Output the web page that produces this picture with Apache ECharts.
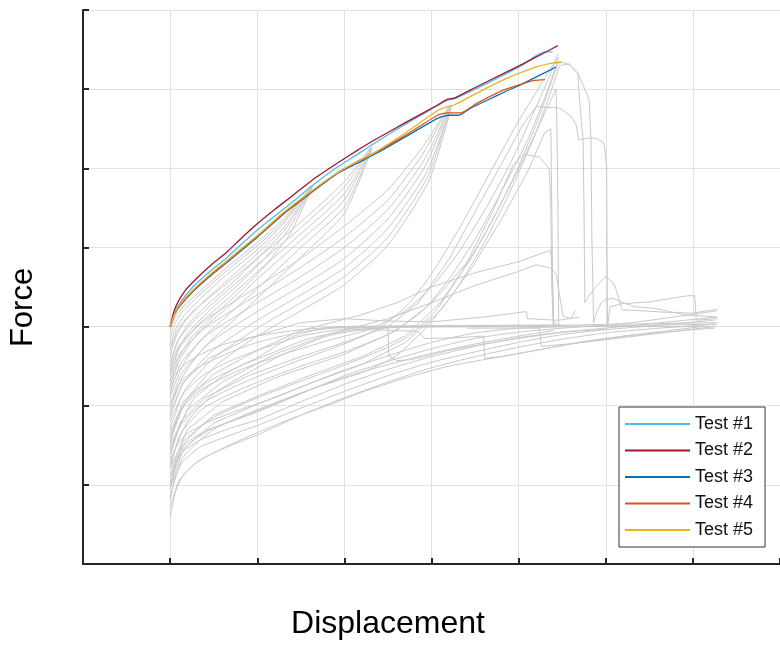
<!DOCTYPE html>
<html>
<head>
<meta charset="utf-8">
<script src="https://cdn.jsdelivr.net/npm/echarts@6/dist/echarts.min.js"></script>
<style>
  html, body { margin: 0; padding: 0; background: #fff; }
  #chart { width: 780px; height: 645px; }
</style>
</head>
<body>
<div id="chart"></div>
<script>
// ---- Highlighted test curves: [displacement, force] ----
const testNames = ['Test #1', 'Test #2', 'Test #3', 'Test #4', 'Test #5'];

const test1 = [[0,3.0],[0.05,3.17],[0.1,3.28],[0.26,3.5],[0.45,3.69],[0.65,3.87],[1.0,4.22],[1.4,4.57],[1.63,4.78],[1.9,5.0],[2.14,5.17],[2.35,5.32],[2.69,5.55],[3.07,5.79],[3.18,5.86],[3.27,5.88],[3.52,6.01],[3.83,6.18],[4.05,6.31],[4.2,6.42],[4.3,6.47],[4.39,6.47]];
const test2 = [[0,3.0],[0.04,3.18],[0.09,3.31],[0.17,3.45],[0.26,3.56],[0.45,3.76],[0.65,3.94],[0.82,4.12],[1.0,4.3],[1.2,4.48],[1.4,4.65],[1.63,4.85],[1.9,5.05],[2.14,5.22],[2.35,5.36],[2.69,5.57],[3.07,5.8],[3.18,5.87],[3.27,5.89],[3.52,6.03],[3.83,6.2],[4.05,6.32],[4.28,6.45],[4.45,6.55]];
const test3 = [[0,3.0],[0.05,3.15],[0.12,3.27],[0.26,3.44],[0.45,3.63],[0.65,3.81],[1.0,4.13],[1.3,4.42],[1.63,4.7],[1.93,4.94],[2.14,5.06],[2.37,5.19],[2.69,5.39],[3.07,5.63],[3.2,5.67],[3.31,5.67],[3.45,5.76],[3.64,5.86],[3.85,5.97],[4.05,6.07],[4.25,6.18],[4.43,6.28]];
const test4 = [[0,3.0],[0.05,3.16],[0.12,3.28],[0.26,3.45],[0.45,3.64],[0.65,3.82],[1.0,4.14],[1.3,4.43],[1.63,4.71],[1.93,4.95],[2.14,5.08],[2.37,5.21],[2.69,5.41],[3.07,5.67],[3.18,5.7],[3.33,5.7],[3.52,5.82],[3.83,5.99],[4.05,6.07],[4.18,6.11],[4.3,6.12]];
const test5 = [[0,3.0],[0.05,3.16],[0.12,3.29],[0.26,3.46],[0.45,3.65],[0.65,3.83],[1.0,4.15],[1.3,4.44],[1.63,4.72],[1.93,4.95],[2.14,5.08],[2.35,5.2],[2.69,5.44],[3.07,5.73],[3.18,5.78],[3.26,5.8],[3.52,5.95],[3.83,6.12],[4.2,6.28],[4.38,6.33],[4.49,6.34]];

// ---- Background cycles (all other specimens) ----
// reloading branches meeting the envelope near the first cycle peak
const greyToFirstPeak = [
  [[0,2.95],[0.05,3.1],[0.15,3.25],[0.3,3.4],[0.6,3.7],[1.0,4.06],[1.3,4.36],[1.63,4.77]],
  [[0,2.85],[0.05,3.03],[0.15,3.2],[0.3,3.36],[0.6,3.66],[1.0,4.02],[1.3,4.33],[1.63,4.77]],
  [[0,2.75],[0.06,2.96],[0.16,3.14],[0.32,3.32],[0.6,3.61],[1.0,3.97],[1.3,4.3],[1.63,4.77]],
  [[0,2.62],[0.07,2.88],[0.18,3.08],[0.35,3.28],[0.65,3.58],[1.0,3.92],[1.32,4.27],[1.63,4.77]],
  [[0,2.5],[0.08,2.8],[0.2,3.02],[0.4,3.25],[0.7,3.54],[1.0,3.86],[1.33,4.24],[1.63,4.77]],
  [[0,2.38],[0.1,2.73],[0.22,2.94],[0.45,3.2],[0.75,3.5],[1.05,3.82],[1.35,4.21],[1.64,4.78]],
  [[0,2.25],[0.1,2.6],[0.25,2.87],[0.5,3.14],[0.8,3.44],[1.1,3.78],[1.38,4.18],[1.64,4.78]]
];
// reloading branches meeting the envelope near the second cycle peak
const greyToSecondPeak = [
  [[0,2.7],[0.08,2.95],[0.25,3.18],[0.6,3.5],[1.0,3.86],[1.5,4.32],[2.0,4.83],[2.3,5.26]],
  [[0,2.55],[0.1,2.84],[0.28,3.08],[0.62,3.42],[1.0,3.78],[1.5,4.25],[2.0,4.76],[2.3,5.26]],
  [[0,2.4],[0.1,2.71],[0.3,3.0],[0.65,3.34],[1.0,3.69],[1.5,4.17],[2.0,4.68],[2.31,5.26]],
  [[0,2.25],[0.12,2.6],[0.32,2.92],[0.68,3.26],[1.0,3.6],[1.5,4.09],[2.0,4.6],[2.31,5.26]],
  [[0,2.1],[0.13,2.48],[0.35,2.83],[0.7,3.18],[1.05,3.53],[1.5,4.0],[2.0,4.51],[2.32,5.26]],
  [[0,1.95],[0.15,2.38],[0.4,2.75],[0.75,3.1],[1.1,3.46],[1.55,3.93],[2.0,4.43],[2.32,5.26]]
];
// reloading branches meeting the envelope near the third cycle peak
const greyToThirdPeak = [
  [[0,2.45],[0.1,2.76],[0.4,3.08],[1.0,3.5],[1.5,3.86],[2.0,4.27],[2.5,4.73],[2.9,5.27],[3.2,5.78]],
  [[0,2.3],[0.1,2.64],[0.4,2.98],[1.0,3.4],[1.5,3.75],[2.0,4.13],[2.5,4.6],[2.9,5.18],[3.2,5.78]],
  [[0,2.15],[0.12,2.53],[0.42,2.89],[1.0,3.3],[1.5,3.63],[2.0,4.0],[2.5,4.48],[2.92,5.11],[3.21,5.78]],
  [[0,2.0],[0.13,2.4],[0.45,2.79],[1.0,3.19],[1.5,3.51],[2.0,3.86],[2.5,4.36],[2.93,5.03],[3.21,5.78]],
  [[0,1.85],[0.15,2.28],[0.48,2.69],[1.0,3.08],[1.5,3.4],[2.0,3.74],[2.5,4.24],[2.95,4.96],[3.22,5.78]],
  [[0,1.7],[0.16,2.18],[0.5,2.6],[1.0,2.98],[1.5,3.3],[2.0,3.63],[2.5,4.13],[2.96,4.9],[3.22,5.78]],
  [[0,1.55],[0.18,2.06],[0.52,2.5],[1.0,2.88],[1.5,3.2],[2.0,3.53],[2.5,4.03],[2.97,4.84],[3.23,5.78]]
];
// final loading branches rising to the ultimate load
const greyToFinalPeak = [
  [[0,1.5],[0.1,1.9],[0.35,2.2],[0.8,2.45],[1.3,2.65],[1.8,2.82],[2.3,2.97],[2.7,3.2],[3.0,3.5],[3.3,3.92],[3.6,4.45],[3.9,5.05],[4.15,5.65],[4.35,6.15],[4.45,6.45]],
  [[0,1.2],[0.12,1.65],[0.4,1.98],[0.9,2.25],[1.5,2.5],[2.0,2.68],[2.5,2.9],[2.9,3.2],[3.2,3.6],[3.5,4.1],[3.8,4.7],[4.1,5.35],[4.32,5.95],[4.46,6.4]],
  [[0,1.0],[0.15,1.5],[0.45,1.82],[1.0,2.1],[1.6,2.35],[2.2,2.6],[2.7,2.85],[3.05,3.2],[3.35,3.7],[3.64,4.22],[3.95,4.9],[4.2,5.55],[4.38,6.1],[4.46,6.35]],
  [[0,0.85],[0.15,1.35],[0.5,1.7],[1.0,1.95],[1.6,2.2],[2.2,2.42],[2.58,2.62],[2.95,3.0],[3.3,3.5],[3.6,4.05],[3.9,4.7],[4.18,5.4],[4.38,6.0],[4.47,6.3]],
  [[0,1.35],[0.12,1.75],[0.4,2.05],[0.9,2.32],[1.5,2.58],[2.0,2.78],[2.4,2.98],[2.75,3.3],[3.05,3.75],[3.35,4.3],[3.65,4.9],[3.95,5.5],[4.25,6.05],[4.45,6.4]]
];
// peak branches followed by sudden load drops
const greyPeakDrops = [
  [[0,1.1],[0.15,1.55],[0.5,1.88],[1.0,2.12],[1.6,2.38],[2.2,2.62],[2.7,2.88],[3.1,3.3],[3.45,3.85],[3.75,4.45],[4.05,5.1],[4.3,5.7],[4.43,6.0],[4.44,5.5],[4.45,4.6],[4.46,3.0]],
  [[0,0.95],[0.15,1.45],[0.5,1.78],[1.0,2.02],[1.6,2.28],[2.2,2.52],[2.7,2.8],[3.1,3.2],[3.45,3.72],[3.8,4.35],[4.1,4.95],[4.3,5.45],[4.37,5.5],[4.38,4.6],[4.39,3.6],[4.4,3.0]],
  [[4.47,6.35],[4.58,6.31],[4.68,6.2],[4.69,5.99],[4.72,5.6],[4.74,5.36],[4.75,4.5],[4.76,3.3],[4.8,3.38],[4.9,3.52],[5.0,3.63],[5.08,3.56],[5.11,3.5],[5.15,3.35],[5.19,3.21],[5.4,3.2],[5.7,3.18],[6.0,3.17],[6.28,3.22]],
  [[4.48,6.3],[4.58,6.32],[4.68,6.2],[4.76,6.0],[4.81,5.86],[4.83,5.36],[4.84,4.2],[4.86,3.05],[4.9,3.2],[4.95,3.3],[5.0,3.34],[5.08,3.36],[5.2,3.3],[5.34,3.25],[5.57,3.23],[5.9,3.15],[6.28,3.12]],
  [[0,1.4],[0.12,1.8],[0.4,2.1],[0.9,2.38],[1.5,2.62],[2.0,2.8],[2.5,3.0],[2.85,3.3],[3.2,3.85],[3.5,4.45],[3.8,5.05],[4.05,5.55],[4.2,5.78],[4.47,5.76],[4.6,5.66],[4.66,5.55],[4.69,5.36],[4.8,5.38],[4.89,5.38],[4.98,5.32],[5.01,5.02],[5.02,3.0],[5.05,3.25],[5.19,3.29],[5.49,3.31],[5.94,3.39],[6.02,3.39],[6.04,3.08],[6.28,3.1]],
  [[0,1.2],[0.2,1.7],[0.6,2.05],[1.2,2.35],[2.0,2.65],[2.6,2.95],[3.0,3.3],[3.4,3.8],[3.7,4.45],[3.94,5.05],[4.06,5.18],[4.24,5.14],[4.35,5.0],[4.37,4.5],[4.38,3.5],[4.4,3.0]]
];
// branches levelling off on the residual plateau
const greyPlateau = [
  [[0,2.2],[0.1,2.45],[0.3,2.62],[0.6,2.77],[1.0,2.88],[1.5,2.96],[2.0,3.0],[3.0,3.01],[4.0,3.0],[5.0,3.01],[6.28,3.03]],
  [[0,2.0],[0.12,2.3],[0.35,2.5],[0.7,2.68],[1.0,2.8],[1.5,2.93],[2.0,2.99],[3.0,3.0],[4.5,3.0],[5.5,3.0],[6.28,3.0]],
  [[0,1.8],[0.15,2.15],[0.4,2.4],[0.7,2.57],[1.0,2.7],[1.5,2.88],[2.0,2.97],[2.5,3.0],[4.0,3.01],[6.28,3.05]],
  [[0,1.6],[0.15,2.0],[0.4,2.28],[0.8,2.5],[1.2,2.68],[1.6,2.85],[2.1,2.96],[2.6,2.99],[4.2,3.0],[6.1,3.0]],
  [[0,1.45],[0.26,2.07],[0.65,2.41],[1.02,2.62],[1.4,2.87],[1.78,2.98],[2.5,3.0],[4.4,3.02],[4.6,3.0]],
  [[0,1.3],[0.2,1.8],[0.5,2.15],[0.9,2.42],[1.3,2.65],[1.8,2.88],[2.3,2.97],[3.0,3.0],[4.45,3.0]]
];
// low-stiffness branches approaching the plateau slowly
const greyLower = [
  [[0,0.58],[0.06,0.9],[0.15,1.12],[0.35,1.32],[0.7,1.5],[1.0,1.63],[1.5,1.88],[2.0,2.1],[2.5,2.3],[3.0,2.48],[3.5,2.62],[4.0,2.74],[4.5,2.84],[5.0,2.92],[5.5,2.97],[6.25,3.03]],
  [[0,0.8],[0.06,1.1],[0.15,1.3],[0.35,1.48],[0.7,1.63],[1.0,1.75],[1.5,1.97],[2.0,2.18],[2.5,2.38],[3.0,2.55],[3.5,2.68],[4.0,2.8],[4.5,2.9],[5.0,2.96],[6.25,3.08]],
  [[0,1.0],[0.06,1.25],[0.15,1.42],[0.35,1.57],[0.7,1.72],[1.0,1.82],[1.5,2.05],[2.0,2.27],[2.5,2.46],[3.0,2.62],[3.5,2.75],[4.0,2.86],[4.5,2.93],[5.0,2.98],[6.28,3.12]],
  [[0,1.1],[0.07,1.35],[0.18,1.52],[0.4,1.68],[0.7,1.8],[1.0,1.92],[1.5,2.15],[2.0,2.38],[2.5,2.56],[3.0,2.72],[3.5,2.85],[4.0,2.93],[4.5,2.98],[5.3,3.05],[6.28,3.2]],
  [[0,1.25],[0.08,1.5],[0.2,1.65],[0.45,1.8],[0.8,1.95],[1.2,2.1],[1.6,2.28],[2.0,2.45],[2.5,2.63],[3.0,2.8],[3.5,2.92],[4.0,2.98],[4.55,3.0]],
  [[0,0.95],[0.1,1.35],[0.25,1.55],[0.5,1.72],[0.8,1.85],[1.2,2.02],[1.6,2.2],[2.0,2.36],[2.5,2.52],[3.0,2.66],[3.5,2.78],[4.0,2.88],[4.4,2.95]],
  [[0,0.7],[0.1,1.05],[0.3,1.28],[0.6,1.46],[1.0,1.66],[1.4,1.84],[1.8,2.0],[2.2,2.17],[2.7,2.35],[3.2,2.5],[3.8,2.62],[4.3,2.72],[4.8,2.82],[5.4,2.9],[6.0,2.96],[6.25,2.98]]
];
// small secondary peaks before local failure
const greyHumps = [
  [[0,1.65],[0.15,2.05],[0.5,2.4],[1.0,2.7],[1.5,2.95],[2.2,3.15],[2.6,3.3],[3.0,3.5],[3.5,3.68],[4.0,3.82],[4.2,3.9],[4.36,3.96],[4.38,3.88],[4.4,3.08],[4.45,3.0]],
  [[0,1.5],[0.2,1.95],[0.6,2.3],[1.2,2.65],[1.8,2.9],[2.5,3.1],[3.0,3.3],[3.5,3.52],[3.98,3.69],[4.2,3.78],[4.36,3.74],[4.43,3.67],[4.51,3.13],[4.6,3.1],[4.65,3.2]]
];
// post-failure slips along the residual plateau
const greySteps = [
  [[1.9,3.0],[2.5,3.0],[2.51,2.63],[2.6,2.57],[2.75,2.58],[2.92,2.62],[3.2,2.7],[3.6,2.78],[4.0,2.85],[4.5,2.93],[5.0,2.97]],
  [[2.0,2.97],[2.84,2.94],[2.92,2.85],[3.0,2.85],[3.3,2.86],[3.6,2.88],[3.61,2.6],[3.8,2.62],[4.2,2.7],[4.7,2.8],[5.2,2.88],[6.1,3.0]],
  [[3.4,2.98],[4.24,2.98],[4.26,2.75],[4.66,2.79],[5.2,2.86],[5.8,2.94],[6.25,3.0]],
  [[0,1.9],[0.15,2.3],[0.45,2.6],[0.9,2.85],[1.5,3.05],[2.0,3.1],[2.5,3.07],[3.0,3.06],[3.6,3.12],[4.09,3.19],[4.1,3.1],[4.45,3.08],[4.7,3.12]]
];

const testColors = ['#4DBEEE', '#A2142F', '#0072BD', '#D95319', '#EDB120'];
const greyColor = '#c9c9c9';
const axisColor = '#262626';
const gridColor = '#e2e2e2';

function greySeries(curves, smooth) {
  return curves.map(function (c) {
    return {
      type: 'line', data: c, symbol: 'none', showSymbol: false,
      smooth: smooth, silent: true, animation: false, z: 1,
      lineStyle: { color: greyColor, width: 1 }, itemStyle: { color: greyColor }
    };
  });
}

const tests = [test1, test2, test3, test4, test5];
const testSeries = tests.map(function (d, i) {
  return {
    name: testNames[i], type: 'line', data: d, symbol: 'none', showSymbol: false,
    smooth: 0.2, animation: false, z: 3, color: testColors[i],
    lineStyle: { color: testColors[i], width: 1.3 }, itemStyle: { color: testColors[i] }
  };
});

const series = [].concat(
  greySeries(greyLower, 0.2),
  greySeries(greyPlateau, 0.2),
  greySeries(greySteps, false),
  greySeries(greyHumps, false),
  greySeries(greyToFirstPeak, 0.2),
  greySeries(greyToSecondPeak, 0.2),
  greySeries(greyToThirdPeak, 0.2),
  greySeries(greyToFinalPeak, 0.2),
  greySeries(greyPeakDrops, false),
  testSeries
);

const axisCommon = {
  type: 'value', interval: 1,
  axisLine: { show: true, onZero: false, lineStyle: { color: axisColor, width: 2 } },
  axisTick: { show: true, inside: true, length: 6, lineStyle: { color: axisColor, width: 2 } },
  axisLabel: { show: false },
  splitLine: { show: true, lineStyle: { color: gridColor, width: 1 } }
};

const chart = echarts.init(document.getElementById('chart'), null, { renderer: 'canvas' });
chart.setOption({
  animation: false,
  backgroundColor: '#ffffff',
  grid: { left: 83, top: 10, width: 703, height: 554, containLabel: false },
  xAxis: Object.assign({}, axisCommon, { min: -1, max: 7 }),
  yAxis: Object.assign({}, axisCommon, { min: 0, max: 7 }),
  legend: {
    data: testNames,
    orient: 'vertical',
    left: 619, top: 407,
    padding: [8, 12, 8, 6],
    itemWidth: 65, itemHeight: 2, itemGap: 8.5,
    icon: 'rect',
    borderColor: '#333', borderWidth: 1, borderRadius: 0,
    backgroundColor: '#ffffff',
    textStyle: { fontFamily: 'Liberation Sans, Arial, sans-serif', fontSize: 18, lineHeight: 18, color: '#111' },
    selectedMode: false
  },
  graphic: [
    { type: 'text', x: 23, y: 307.5, rotation: Math.PI / 2,
      style: { text: 'Force', fontFamily: 'Liberation Sans, Arial, sans-serif', fontSize: 31, fill: '#000', align: 'center', verticalAlign: 'middle' } },
    { type: 'text', x: 388, y: 624.5,
      style: { text: 'Displacement', fontFamily: 'Liberation Sans, Arial, sans-serif', fontSize: 32, fill: '#000', align: 'center', verticalAlign: 'middle' } }
  ],
  series: series
});
</script>
</body>
</html>
